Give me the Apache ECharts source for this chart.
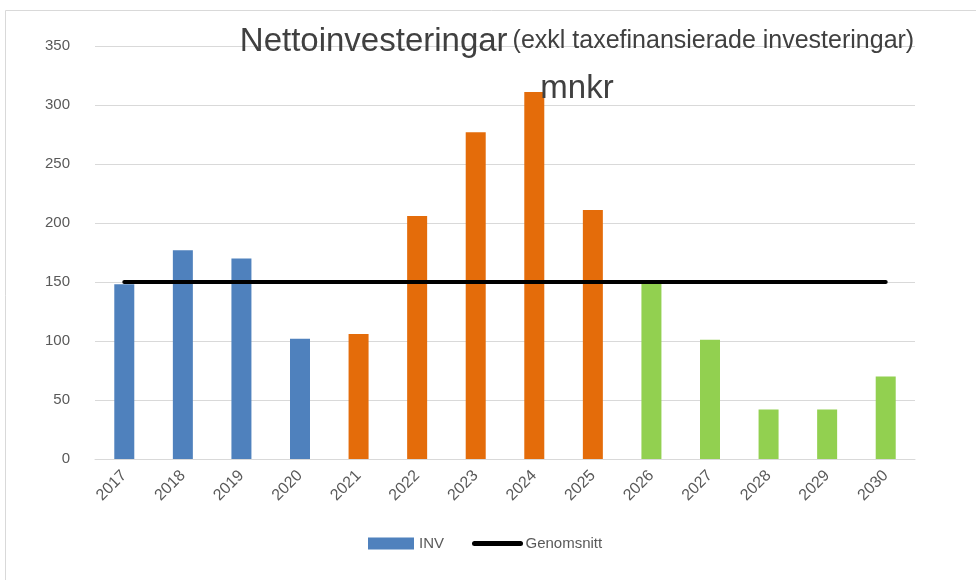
<!DOCTYPE html>
<html>
<head>
<meta charset="utf-8">
<script src="https://cdn.jsdelivr.net/npm/echarts@6/dist/echarts.min.js"></script>
<style>
  html, body { margin: 0; padding: 0; background: #fff; }
  #chart { width: 976px; height: 580px; }
</style>
</head>
<body>
<div id="chart"></div>
<script>
  // data
  const years = ['2017', '2018', '2019', '2020', '2021', '2022', '2023', '2024', '2025', '2026', '2027', '2028', '2029', '2030'];
  const inv = [148, 177, 170, 102, 106, 206, 277, 311, 211, 150, 101, 42, 42, 70];
  const genomsnitt = [150, 150, 150, 150, 150, 150, 150, 150, 150, 150, 150, 150, 150, 150];
  const yTicks = [0, 50, 100, 150, 200, 250, 300, 350];

  const barColor = (year) => {
    const y = parseInt(year, 10);
    if (y <= 2020) return '#4F81BD';
    if (y <= 2025) return '#E46C0A';
    return '#92D050';
  };

  const font = '"Liberation Sans", Arial, sans-serif';

  const chart = echarts.init(document.getElementById('chart'));

  const option = {
    backgroundColor: '#fff',
    animation: false,
    textStyle: { fontFamily: font },
    graphic: [
      {
        type: 'rect',
        shape: { x: 5.5, y: 10.5, width: 980, height: 580 },
        style: { fill: 'none', stroke: '#d9d9d9', lineWidth: 1 }
      }
    ],
    title: {
      text: '{a|Nettoinvesteringar} {b|(exkl taxefinansierade investeringar)}\n{a|mnkr}',
      left: 572,
      top: 13,
      textAlign: 'center',
      textStyle: {
        fontWeight: 'normal',
        rich: {
          a: { fontFamily: font, fontSize: 33, fontWeight: 'normal', color: '#404040', lineHeight: 47 },
          b: { fontFamily: font, fontSize: 25, fontWeight: 'normal', color: '#404040', lineHeight: 47 }
        }
      }
    },
    legend: {
      left: 363,
      top: 531,
      itemGap: 28,
      itemWidth: 46,
      itemHeight: 12,
      textStyle: { color: '#595959', fontSize: 15, fontFamily: font },
      data: [
        { name: 'INV', icon: 'rect', itemStyle: { color: '#4F81BD' } },
        { name: 'Genomsnitt', itemStyle: { opacity: 0 }, lineStyle: { color: '#000', width: 5, cap: 'round' } }
      ]
    },
    grid: {
      left: 95,
      right: 61,
      top: 46,
      bottom: 121
    },
    xAxis: {
      type: 'category',
      data: years,
      axisLine: { lineStyle: { color: '#d9d9d9', width: 1 } },
      axisTick: { show: false },
      axisLabel: {
        rotate: 45,
        margin: 14,
        color: '#595959',
        fontSize: 16,
        fontFamily: font
      }
    },
    yAxis: {
      type: 'value',
      min: yTicks[0],
      max: yTicks[yTicks.length - 1],
      interval: 50,
      axisLine: { show: false },
      axisTick: { show: false },
      axisLabel: {
        margin: 25,
        color: '#595959',
        fontSize: 15,
        fontFamily: font
      },
      splitLine: { lineStyle: { color: '#d9d9d9', width: 1 } }
    },
    series: [
      {
        name: 'INV',
        type: 'bar',
        barWidth: 20,
        data: inv.map((v, i) => ({ value: v, itemStyle: { color: barColor(years[i]) } })),
        itemStyle: { color: '#4F81BD' }
      },
      {
        name: 'Genomsnitt',
        type: 'line',
        data: genomsnitt,
        symbol: 'none',
        z: 5,
        lineStyle: { color: '#000', width: 4, cap: 'round' },
        itemStyle: { color: '#000' }
      }
    ]
  };

  chart.setOption(option);
</script>
</body>
</html>
